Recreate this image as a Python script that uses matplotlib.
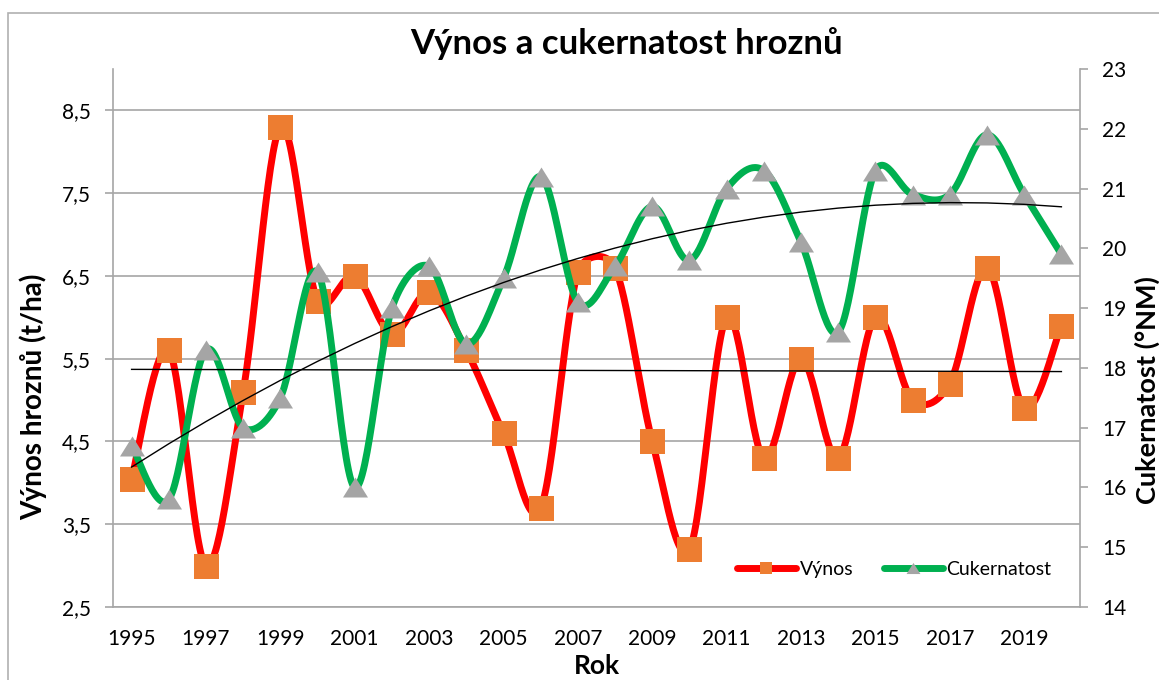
import numpy as np
import matplotlib
matplotlib.use('Agg')
import matplotlib.pyplot as plt
from matplotlib.lines import Line2D
from matplotlib.patches import Rectangle

plt.rcParams['font.family'] = ['Lato', 'DejaVu Sans']

roky = list(range(1995, 2021))
vynos = [4.05, 5.6, 3.0, 5.1, 8.3, 6.2, 6.5, 5.8, 6.3, 5.6, 4.6, 3.7, 6.55,
         6.6, 4.5, 3.2, 6.0, 4.3, 5.5, 4.3, 6.0, 5.0, 5.2, 6.6, 4.9, 5.9]
cukernatost = [16.7, 15.8, 18.3, 17.0, 17.5, 19.6, 16.0, 19.0, 19.7, 18.4,
               19.5, 21.2, 19.1, 19.7, 20.7, 19.8, 21.0, 21.3, 20.1, 18.6,
               21.3, 20.9, 20.9, 21.9, 20.9, 19.9]
vynos_ticks = [2.5, 3.5, 4.5, 5.5, 6.5, 7.5, 8.5]
vynos_labels = ['2,5', '3,5', '4,5', '5,5', '6,5', '7,5', '8,5']
cuk_ticks = list(range(14, 24))
rok_ticks = list(range(1995, 2021, 2))

RED = '#FF0000'
GREEN = '#00B050'
ORANGE = '#ED7D31'
GREY = '#A5A5A5'
AXGREY = '#A6A6A6'


def smooth(x, y, sx, sy, n=30):
    # excel-like smoothed line: bezier, tangent 1/6, clamped to half segment
    # (done in screen units, sx / sy = pixels per data unit)
    pts = np.column_stack([np.asarray(x, float) * sx, np.asarray(y, float) * sy])
    P = np.vstack([pts[0], pts, pts[-1]])
    t = np.linspace(0, 1, n, endpoint=False)[:, None]
    segs = []
    for i in range(1, len(P) - 2):
        p0, p1, p2, p3 = P[i - 1], P[i], P[i + 1], P[i + 2]
        half = np.hypot(*(p2 - p1)) / 2
        v1 = (p2 - p0) / 6
        v2 = (p3 - p1) / 6
        if np.hypot(*v1) > half:
            v1 = v1 * half / np.hypot(*v1)
        if np.hypot(*v2) > half:
            v2 = v2 * half / np.hypot(*v2)
        c1 = p1 + v1
        c2 = p2 - v2
        segs.append((1 - t) ** 3 * p1 + 3 * (1 - t) ** 2 * t * c1
                    + 3 * (1 - t) * t ** 2 * c2 + t ** 3 * p2)
    segs.append(pts[-1:])
    s = np.vstack(segs)
    return s[:, 0] / sx, s[:, 1] / sy


def fit_text(txt, target_px, renderer):
    ext = txt.get_window_extent(renderer)
    size = max(ext.width, ext.height)
    txt.set_fontsize(txt.get_fontsize() * target_px / size)


tri = [(-1, -0.8), (1, -0.8), (0, 0.8)]

fig = plt.figure(figsize=(11.59, 6.80), dpi=100)
fig.patches.append(Rectangle((8 / 1159, -0.1), 1.2, 1 - 13 / 680 + 0.1,
                             transform=fig.transFigure, fill=False,
                             edgecolor='#B0B0B0', linewidth=1.2))

ax1 = fig.add_axes([113 / 1159, 1 - 607 / 680, 967 / 1159, 538 / 680])
ax2 = ax1.twinx()

xlim = (1994.5, 2020.5)
ylim1 = (2.5, 9.0)
ylim2 = (14, 23)
ax1.set_xlim(*xlim)
ax1.set_ylim(*ylim1)
ax2.set_ylim(*ylim2)

bb = ax1.get_position()
wpx = bb.width * fig.get_figwidth() * fig.dpi
hpx = bb.height * fig.get_figheight() * fig.dpi
px_x = wpx / (xlim[1] - xlim[0])
px_y1 = hpx / (ylim1[1] - ylim1[0])
px_y2 = hpx / (ylim2[1] - ylim2[0])

# vynos
sx, sy = smooth(roky, vynos, px_x, px_y1)
ax1.plot(sx, sy, color=RED, lw=5, solid_capstyle='round', zorder=3)
ax1.plot(roky, vynos, ls='none', marker='s', ms=18, mfc=ORANGE, mec=ORANGE,
         mew=0, zorder=4)

# cukernatost
cx, cy = smooth(roky, cukernatost, px_x, px_y2)
ax2.plot(cx, cy, color=GREEN, lw=5, solid_capstyle='round', zorder=3)
ax2.plot(roky, cukernatost, ls='none', marker=tri, ms=18, mfc=GREY, mec=GREY,
         mew=0, zorder=4)

# trend lines
xr = np.array(roky, dtype=float)
k1 = np.polyfit(xr - 1995, vynos, 1)
ax2.plot(xr, np.polyval(k1, xr - 1995), color='black', lw=1,
         transform=ax1.transData, zorder=6)
k2 = np.polyfit(xr - 1995, cukernatost, 2)
ax2.plot(xr, np.polyval(k2, xr - 1995), color='black', lw=1, zorder=6)

ax1.set_xlim(*xlim)
ax1.set_ylim(*ylim1)
ax2.set_ylim(*ylim2)

ax1.set_yticks(vynos_ticks)
ax1.set_yticklabels(vynos_labels)
ax2.set_yticks(cuk_ticks)
ax1.set_xticks(rok_ticks)
ax1.set_xticklabels([str(r) for r in rok_ticks])

ax1.grid(axis='y', color=AXGREY, lw=1.2)
ax1.set_axisbelow(True)
ax2.patch.set_visible(False)

for a in (ax1, ax2):
    a.spines['top'].set_visible(False)
    for side in ('left', 'right', 'bottom'):
        a.spines[side].set_color(AXGREY)
        a.spines[side].set_linewidth(1.2)
ax1.spines['right'].set_visible(False)
ax2.spines['left'].set_visible(False)
ax2.spines['bottom'].set_visible(False)

ax1.tick_params(axis='y', direction='out', length=6, width=1.2, color=AXGREY,
                labelsize=15, pad=10, labelcolor='black')
ax2.tick_params(axis='y', direction='out', length=6, width=1.2, color=AXGREY,
                labelsize=15, pad=10, labelcolor='black')
ax1.tick_params(axis='x', length=0, labelsize=15, pad=16)

title = fig.suptitle('Výnos a cukernatost hroznů', x=627 / 1159, y=1 - 27 / 680,
                     fontsize=25, fontweight='bold', va='top')

ax1.set_xlabel('Rok', fontsize=19, fontweight='bold')
ax1.xaxis.set_label_coords(0.5, -(666 - 607) / 538)
ax1.xaxis.label.set_va('center')

ax1.set_ylabel('Výnos hroznů (t/ha)', fontsize=18, fontweight='bold')
ax1.yaxis.set_label_coords((33 - 113) / 967, (607 - 397) / 538)
ax1.yaxis.label.set_va('center')

ax2.set_ylabel('Cukernatost (°NM)', fontsize=17, fontweight='bold')
ax2.yaxis.set_label_coords((1147 - 113) / 967, (607 - 390) / 538)
ax2.yaxis.label.set_va('center')

# match label lengths to the reference
renderer = fig.canvas.get_renderer()
fit_text(ax1.yaxis.label, 247, renderer)
fit_text(ax2.yaxis.label, 228, renderer)

handles = [
    Line2D([], [], color=RED, lw=5, solid_capstyle='round', marker='s',
           ms=9, mfc=ORANGE, mec=ORANGE, mew=0),
    Line2D([], [], color=GREEN, lw=5, solid_capstyle='round', marker=tri,
           ms=10, mfc=GREY, mec=GREY, mew=0),
]
ax2.legend(handles, ['Výnos', 'Cukernatost'], ncol=2, frameon=False,
           loc='center', bbox_to_anchor=(0.808, 0.07), fontsize=14,
           handlelength=3.0, handletextpad=0.2, columnspacing=1.6)

fig.savefig('out.png', dpi=100)
